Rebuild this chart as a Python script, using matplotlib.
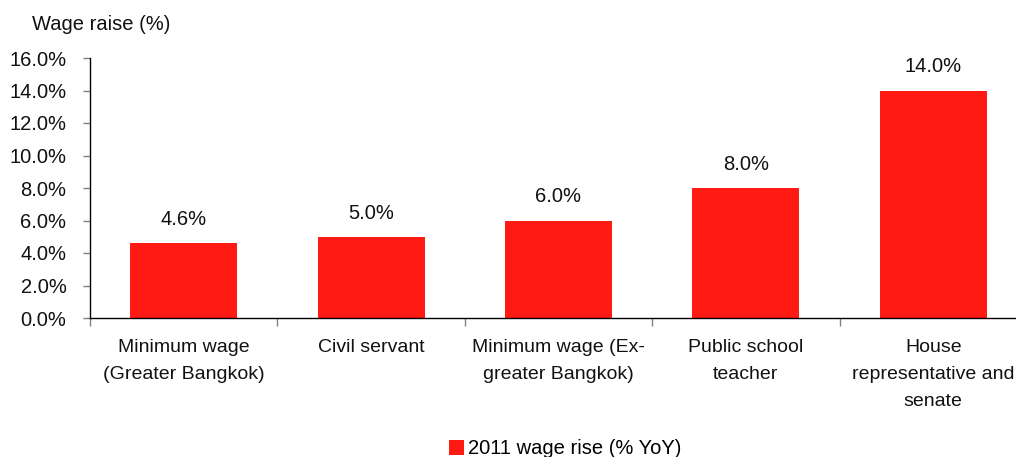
import matplotlib
matplotlib.use("Agg")
import matplotlib.pyplot as plt
import numpy as np
from matplotlib.ticker import FixedLocator, PercentFormatter

categories = [
    "Minimum wage\n(Greater Bangkok)",
    "Civil servant",
    "Minimum wage (Ex-\ngreater Bangkok)",
    "Public school\nteacher",
    "House\nrepresentative and\nsenate",
]
wage_rise = [4.6, 5.0, 6.0, 8.0, 14.0]
y_ticks = [0, 2, 4, 6, 8, 10, 12, 14, 16]
series_name = "2011 wage rise (% YoY)"

plt.rcParams["font.family"] = ["Liberation Sans", "DejaVu Sans"]
FS = 14.5
FS_CAT = 14
BAR_COLOR = "#FF1A14"

fig = plt.figure(figsize=(10.16, 4.57), dpi=100)
ax = fig.add_axes([90 / 1016, 1 - 318 / 457, 937 / 1016, 260 / 457])

x = np.arange(len(categories))
bars = ax.bar(x, wage_rise, width=0.57, color=BAR_COLOR, label=series_name, zorder=2)

for xi, v in zip(x, wage_rise):
    ax.annotate(f"{v:.1f}%", (xi, v), xytext=(0, 17), textcoords="offset points",
                ha="center", va="center", fontsize=FS, color="#111111")

ax.set_xlim(-0.5, len(categories) - 0.5)
ax.set_ylim(0, 16)
ax.set_yticks(y_ticks)
ax.yaxis.set_major_formatter(PercentFormatter(decimals=1))
ax.tick_params(axis="y", labelsize=FS, length=5, width=1, color="#808080",
               pad=12, labelcolor="#111111")

ax.set_xticks(x)
ax.set_xticklabels(categories, fontsize=FS_CAT, linespacing=1.78, color="#111111", va="top")
ax.tick_params(axis="x", which="major", length=0, pad=15)
ax.xaxis.set_minor_locator(FixedLocator(np.arange(-0.5, len(categories) + 0.5, 1.0)))
ax.tick_params(axis="x", which="minor", length=6, width=1, color="#808080")

for side in ("top", "right"):
    ax.spines[side].set_visible(False)
for side in ("left", "bottom"):
    ax.spines[side].set_color("#000000")
    ax.spines[side].set_linewidth(1)

fig.text(32 / 1016, 1 - 25 / 457, "Wage raise (%)", fontsize=FS, ha="left",
         va="center", color="#111111")

fig.legend(handles=[bars], labels=[series_name], loc="center",
           bbox_to_anchor=(565 / 1016, 1 - 449 / 457), frameon=False, fontsize=FS,
           handlelength=0.75, handleheight=0.75, handletextpad=0.2, borderpad=0)

fig.savefig("out.png", dpi=100)
